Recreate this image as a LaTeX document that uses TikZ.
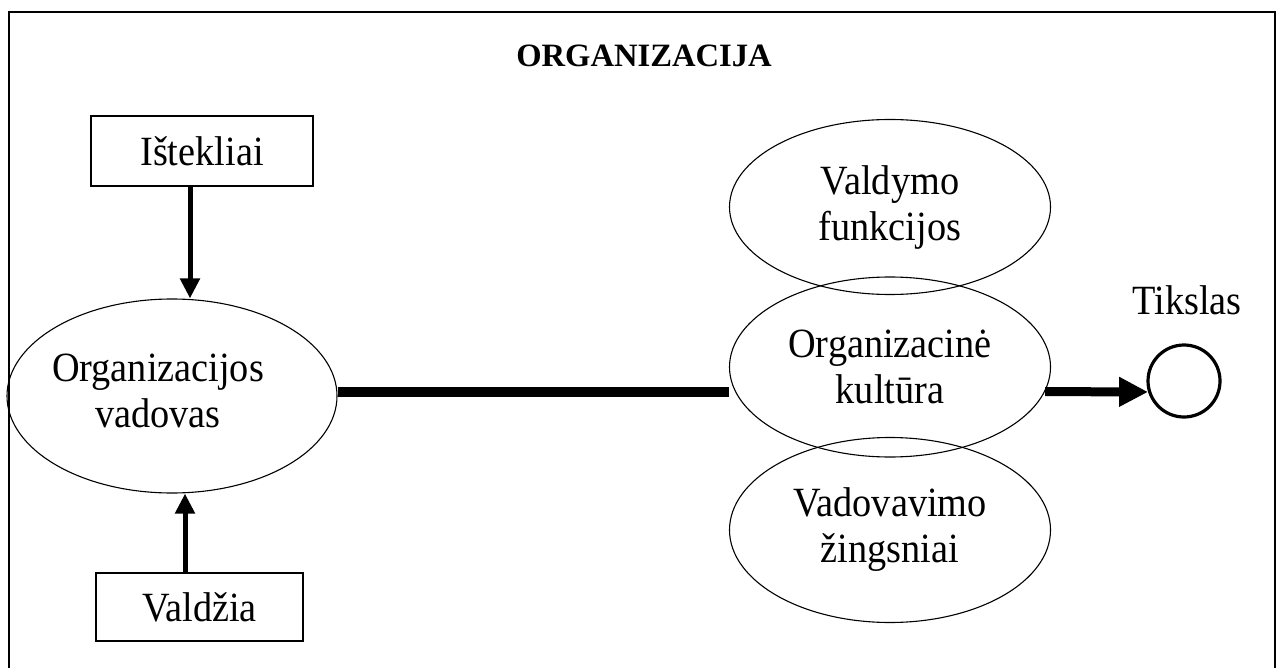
\documentclass[tikz,border=0pt]{standalone}
\usepackage{fontspec}
\setmainfont[FakeStretch=0.92]{Liberation Serif}
\newfontfamily\titlefont{Liberation Serif}
\usetikzlibrary{shapes.geometric,arrows.meta}
\begin{document}
\begin{tikzpicture}[x=0.5pt,y=-0.5pt,
  txt/.style={font=\fontsize{20.8}{23}\selectfont, align=center},
  oval/.style={ellipse, draw, line width=0.55pt, inner sep=0pt, txt},
  rbox/.style={rectangle, draw, line width=0.9pt, inner sep=0pt, txt},
  thinarr/.style={line width=2.5pt, -{Triangle[length=10pt,width=9.5pt]}},
  thickline/.style={line width=5pt},
  thickarr/.style={line width=4.5pt, -{Triangle[length=14.5pt,width=14pt]}},
]
\useasboundingbox (0,0) rectangle (1278,668);
\draw[line width=0.9pt] (9,668) -- (9,12) -- (1275,12) -- (1275,668);

\node[font=\titlefont\bfseries\fontsize{16.3}{19}\selectfont, anchor=base] (title) at (644,67) {ORGANIZACIJA};
\node[rbox, minimum width=111pt, minimum height=35pt] (ist) at (202,151) {Ištekliai};
\node[rbox, minimum width=103.5pt, minimum height=34pt] (val) at (199.5,607) {Valdžia};
\node[oval, minimum width=165pt, minimum height=97pt] (ov) at (172,396) {};
\node[txt] (ovtext) at (158,391) {Organizacijos\\vadovas};
\node[oval, minimum width=160.5pt, minimum height=87.5pt] (vf) at (890,207) {Valdymo\\funkcijos};
\node[oval, minimum width=160.5pt, minimum height=90pt] (oc) at (890,367) {Organizacinė\\kultūra};
\node[oval, minimum width=160.5pt, minimum height=92.5pt] (vz) at (890,530) {Vadovavimo\\žingsniai};
\node[circle, draw, line width=1.6pt, minimum size=36pt, inner sep=0pt] (tik) at (1184,381) {};
\node[txt, anchor=base] (tiklab) at (1187,314) {Tikslas};

\coordinate (xa) at (190,0);
\coordinate (xb) at (185,0);
\coordinate (yl) at (0,392);
\draw[thinarr] (ist.south -| xa) -- (ov.north -| xa);
\draw[thinarr] (val.north -| xb) -- (ov.south -| xb);
\draw[thickline] (ov.east |- yl) -- (oc.west |- yl);
\draw[thickarr] (oc.-9.2) -- (tik.197);
\end{tikzpicture}
\end{document}
